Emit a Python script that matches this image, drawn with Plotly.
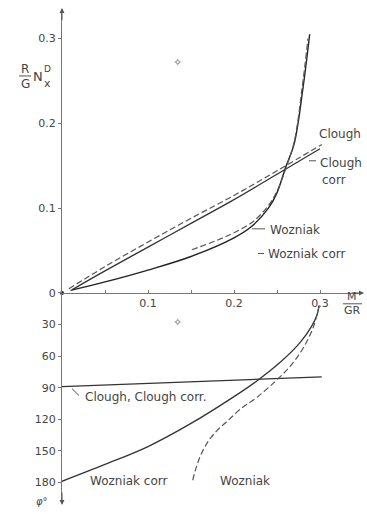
import plotly.graph_objects as go

# ---------------- data ----------------
# top panel: (R/G) N_x^D versus M/(GR)
woz_M = [0.010, 0.050, 0.100, 0.150, 0.200, 0.220, 0.240, 0.250, 0.260, 0.270, 0.280, 0.288]
woz_N = [0.003, 0.013, 0.027, 0.043, 0.065, 0.078, 0.100, 0.118, 0.148, 0.176, 0.240, 0.305]

wozc_M = [0.151, 0.180, 0.200, 0.222, 0.240, 0.250, 0.260, 0.270, 0.279, 0.286]
wozc_N = [0.051, 0.062, 0.071, 0.084, 0.103, 0.120, 0.146, 0.178, 0.240, 0.300]

clough_M = [0.012, 0.050, 0.100, 0.150, 0.200, 0.250, 0.300]
clough_N = [0.004, 0.026, 0.054, 0.082, 0.110, 0.140, 0.170]

cloughc_M = [0.008, 0.050, 0.100, 0.150, 0.200, 0.250, 0.302]
cloughc_N = [0.005, 0.031, 0.060, 0.088, 0.115, 0.144, 0.175]

# bottom panel: phi (degrees) versus M/(GR)
phi_clough_M = [0.000, 0.100, 0.200, 0.302]
phi_clough = [89.0, 86.0, 83.0, 79.8]

phi_wozc_M = [0.000, 0.050, 0.100, 0.150, 0.200, 0.227, 0.255, 0.277, 0.290, 0.2965, 0.299]
phi_wozc = [179.0, 163.0, 146.0, 124.0, 98.5, 83.4, 65.0, 47.0, 32.0, 21.0, 12.0]

phi_woz_M = [0.152, 0.156, 0.162, 0.170, 0.180, 0.192, 0.208, 0.227, 0.248, 0.265, 0.280, 0.292, 0.299]
phi_woz = [178.0, 166.0, 153.0, 141.0, 131.0, 122.0, 110.0, 99.0, 84.0, 70.0, 53.0, 33.0, 12.0]

x_tickvals = [0.05, 0.10, 0.15, 0.20, 0.25, 0.30]
x_ticktext = ["", "0.1", "", "0.2", "", "0.3"]
y_tickvals = [0, 0.1, 0.2, 0.3]
y_ticktext = ["0", "0.1", "0.2", "0.3"]
phi_tickvals = [30, 60, 90, 120, 150, 180]
phi_ticktext = ["30", "60", "90", "120", "150", "180"]

# ---------------- figure ----------------
W, H = 367, 514
FONT = "DejaVu Sans"
INK = "#333333"
TXT = "#444444"


def px(x):
    return x / W


def py(y):
    return 1 - y / H


fig = go.Figure()

solid = dict(color=INK, width=1.3)
dashed = dict(color="#555555", width=1.2, dash="6px,3px")

fig.add_trace(go.Scatter(x=clough_M, y=clough_N, mode="lines", line=solid, yaxis="y", line_shape="spline"))
fig.add_trace(go.Scatter(x=cloughc_M, y=cloughc_N, mode="lines", line=dashed, yaxis="y", line_shape="spline"))
fig.add_trace(go.Scatter(x=woz_M, y=woz_N, mode="lines", line=dict(color="#222", width=1.4), yaxis="y",
                         line_shape="spline"))
fig.add_trace(go.Scatter(x=wozc_M, y=wozc_N, mode="lines", line=dashed, yaxis="y", line_shape="spline"))

fig.add_trace(go.Scatter(x=phi_clough_M, y=phi_clough, mode="lines", line=solid, yaxis="y2"))
fig.add_trace(go.Scatter(x=phi_wozc_M, y=phi_wozc, mode="lines", line=solid, yaxis="y2", line_shape="spline"))
fig.add_trace(go.Scatter(x=phi_woz_M, y=phi_woz, mode="lines", line=dashed, yaxis="y2", line_shape="spline"))

# origin dot
fig.add_trace(go.Scatter(x=[0], y=[0], mode="markers", marker=dict(color="#222", size=4), yaxis="y",
                         cliponaxis=False))

x0, x1 = 62, 360
ytop0, ytop1 = 297, 12
ybot1 = 510
scale = 860.0
phis = 32.0 / 30.0

fig.update_layout(
    width=W, height=H, autosize=False,
    margin=dict(l=0, r=0, t=0, b=0),
    paper_bgcolor="white", plot_bgcolor="white",
    showlegend=False,
    font=dict(family=FONT, size=11, color=TXT),
    xaxis=dict(
        domain=[px(x0), px(x1)], range=[0, (x1 - x0) / scale],
        anchor="y", showgrid=False, zeroline=False,
        showline=True, linecolor="#777", linewidth=1,
        tickmode="array", tickvals=x_tickvals, ticktext=x_ticktext,
        ticks="inside", ticklen=3, tickcolor="#777",
        tickfont=dict(size=11, color=TXT),
    ),
    yaxis=dict(
        domain=[py(ytop0), py(ytop1)], range=[0, (ytop0 - ytop1) / scale],
        anchor="x", showgrid=False, zeroline=False,
        showline=True, linecolor="#777", linewidth=1,
        tickmode="array", tickvals=y_tickvals, ticktext=y_ticktext,
        ticks="outside", ticklen=3, tickcolor="#777",
        tickfont=dict(size=11, color=TXT),
    ),
    yaxis2=dict(
        domain=[py(ybot1), py(ytop0)], range=[(ybot1 - ytop0) / phis, 0],
        anchor="x", showgrid=False, zeroline=False,
        showline=True, linecolor="#777", linewidth=1,
        tickmode="array", tickvals=phi_tickvals, ticktext=phi_ticktext,
        ticks="outside", ticklen=3, tickcolor="#777",
        tickfont=dict(size=11, color=TXT),
    ),
)

ann = []


def text(x, y, s, size=12, xanchor="left", yanchor="middle", color=TXT):
    ann.append(dict(x=px(x), y=py(y), xref="paper", yref="paper", text=s, showarrow=False,
                    xanchor=xanchor, yanchor=yanchor, font=dict(size=size, color=color, family=FONT)))


# axis arrows
ann.append(dict(x=px(62), y=py(8), xref="paper", yref="paper", ax=0, ay=14, text="", showarrow=True,
                arrowhead=2, arrowsize=1, arrowwidth=1, arrowcolor="#555"))
ann.append(dict(x=px(62), y=py(512), xref="paper", yref="paper", ax=0, ay=-14, text="", showarrow=True,
                arrowhead=2, arrowsize=1, arrowwidth=1, arrowcolor="#555"))
ann.append(dict(x=px(364), y=py(297), xref="paper", yref="paper", ax=-14, ay=0, text="", showarrow=True,
                arrowhead=2, arrowsize=1, arrowwidth=1, arrowcolor="#555"))

# y-axis title: R/G N_x^D
text(25, 70, "R", 12, xanchor="center")
text(25, 85, "G", 12, xanchor="center")
text(31, 78, "N", 13, xanchor="left")
text(42, 70, "D", 9, xanchor="left")
text(42, 85, "x", 11, xanchor="left")
# x-axis title: M/GR
text(352, 301, "M", 11, xanchor="center")
text(352, 315, "GR", 11, xanchor="center")
# phi label
text(42, 508, "<i>φ°</i>", 10, xanchor="center")

# curve labels
text(317, 136, "Clough", 12, xanchor="left")
text(318, 165, "Clough", 12, xanchor="left")
text(320, 182, "corr", 12, xanchor="left")
text(268, 233, "Wozniak", 12, xanchor="left")
text(266, 257, "Wozniak corr", 12, xanchor="left")
text(83, 402, "Clough, Clough corr.", 12, xanchor="left")
text(88, 488, "Wozniak corr", 12, xanchor="left")
text(218, 488, "Wozniak", 12, xanchor="left")

# small registration marks
text(177, 63, "✧", 11, xanchor="center", color="#555")
text(177, 327, "✧", 11, xanchor="center", color="#555")

fig.update_layout(annotations=ann)

shapes = []


def seg(xa, ya, xb, yb, color="#555", width=1):
    shapes.append(dict(type="line", xref="paper", yref="paper", x0=px(xa), y0=py(ya), x1=px(xb), y1=py(yb),
                       line=dict(color=color, width=width)))


seg(19, 77, 31, 77)           # R/G fraction bar
seg(343, 308, 362, 308)       # M/GR fraction bar
seg(252, 232, 265, 232)       # Wozniak leader
seg(258, 257, 264, 257)       # Wozniak corr leader
seg(309, 163, 316, 163)       # Clough corr leader
seg(72, 394, 79, 401)         # Clough, Clough corr. leader
fig.update_layout(shapes=shapes)

fig.write_html(
    "out.html",
    config={"displayModeBar": False},
    post_script="document.body.style.margin='0';document.body.style.padding='0';"
                "document.body.style.overflow='hidden';",
)
